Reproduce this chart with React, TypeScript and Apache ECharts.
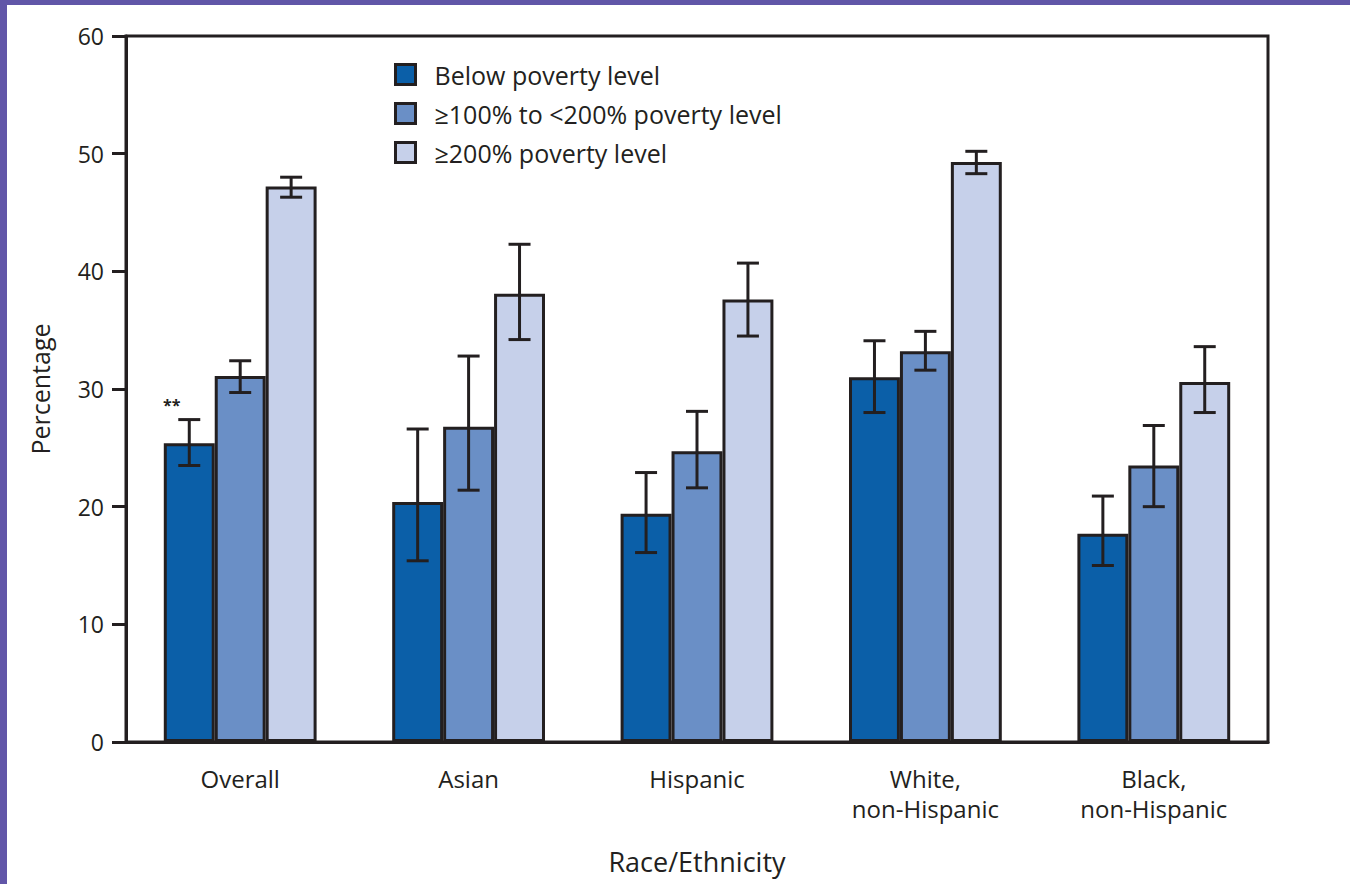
import React, { useEffect, useRef } from "react";
import * as echarts from "echarts";

const categories = ["Overall", "Asian", "Hispanic", "White,\nnon-Hispanic", "Black,\nnon-Hispanic"];
const seriesNames = ["Below poverty level", "≥100% to <200% poverty level", "≥200% poverty level"];
const below = [25.4, 20.4, 19.4, 31.0, 17.7];
const belowLow = [23.5, 15.4, 16.1, 28.0, 15.0];
const belowHigh = [27.4, 26.6, 22.9, 34.1, 20.9];
const mid = [31.1, 26.8, 24.7, 33.2, 23.5];
const midLow = [29.7, 21.4, 21.6, 31.6, 20.0];
const midHigh = [32.4, 32.8, 28.1, 34.9, 26.9];
const high = [47.2, 38.1, 37.6, 49.3, 30.6];
const highLow = [46.3, 34.2, 34.5, 48.3, 28.0];
const highHigh = [48.0, 42.3, 40.7, 50.2, 33.6];
const yTicks = [0, 10, 20, 30, 40, 50, 60];

const colors = ["#0b5fa8", "#6a8fc6", "#c6d0ea"];
const ink = "#231f20";
const FONT = "'Open Sans', 'Noto Sans', sans-serif";
const BAR_RATIO = 0.223;

export default function App() {
  const ref = useRef<HTMLDivElement>(null);
  useEffect(() => {
    if (!ref.current) return;
    const chart = echarts.init(ref.current, null, { renderer: "svg" });
    const values = [below, mid, high];
    const lows = [belowLow, midLow, highLow];
    const highs = [belowHigh, midHigh, highHigh];
    const errData: number[][] = [];
    values.forEach((_, s) => {
      categories.forEach((_, c) => {
        errData.push([c, s, lows[s][c], highs[s][c]]);
      });
    });
    const option: any = {
      animation: false,
      grid: { left: 119, right: 82, top: 31, bottom: 142, show: true, borderColor: ink, borderWidth: 3 },
      legend: {
        orient: "vertical",
        left: 382,
        top: 52,
        itemWidth: 20,
        itemHeight: 20,
        itemGap: 14,
        icon: "rect",
        data: seriesNames,
        textStyle: { fontFamily: FONT, fontSize: 25, color: ink, padding: [0, 0, 0, 14] },
        itemStyle: { borderColor: ink, borderWidth: 3 },
      },
      xAxis: {
        type: "category",
        data: categories,
        name: "Race/Ethnicity",
        nameLocation: "middle",
        nameGap: 106,
        nameTextStyle: { fontFamily: FONT, fontSize: 27, color: ink },
        axisLine: { lineStyle: { color: ink, width: 3 } },
        axisTick: { alignWithLabel: true, length: 14, lineStyle: { color: ink, width: 3 } },
        axisLabel: { fontFamily: FONT, fontSize: 24, color: ink, margin: 21, lineHeight: 30 },
      },
      yAxis: {
        type: "value",
        min: 0,
        max: 60,
        interval: 10,
        name: "Percentage",
        nameLocation: "middle",
        nameGap: 74,
        nameTextStyle: { fontFamily: FONT, fontSize: 25, color: ink },
        axisLine: { show: true, lineStyle: { color: ink, width: 3 } },
        axisTick: { show: true, length: 14, lineStyle: { color: ink, width: 3 } },
        axisLabel: {
          fontFamily: FONT,
          fontSize: 23,
          color: ink,
          margin: 22,
          formatter: (v: number) => (yTicks.includes(v) ? String(v) : ""),
        },
        splitLine: { show: false },
      },
      series: [
        ...values.map((vals, s) => ({
          name: seriesNames[s],
          type: "bar",
          data: vals,
          barWidth: BAR_RATIO * 100 + "%",
          barGap: "0%",
          itemStyle: { color: colors[s], borderColor: ink, borderWidth: 3 },
        })),
        {
          type: "custom",
          name: "errors",
          z: 10,
          data: errData,
          encode: { x: 0, y: [2, 3] },
          renderItem: (params: any, api: any) => {
            const c = api.value(0);
            const s = api.value(1);
            const band = api.size([1, 0])[0];
            const bw = band * BAR_RATIO;
            const top = api.coord([c, api.value(3)]);
            const bot = api.coord([c, api.value(2)]);
            const x = top[0] + (s - 1) * bw;
            const half = 11;
            const style = { stroke: ink, lineWidth: 3 };
            return {
              type: "group",
              children: [
                { type: "line", shape: { x1: x, y1: top[1], x2: x, y2: bot[1] }, style },
                { type: "line", shape: { x1: x - half, y1: top[1], x2: x + half, y2: top[1] }, style },
                { type: "line", shape: { x1: x - half, y1: bot[1], x2: x + half, y2: bot[1] }, style },
              ],
            };
          },
        },
      ],
      graphic: [
        {
          type: "text",
          left: 156,
          top: 392,
          style: { text: "**", fontFamily: FONT, fontSize: 16, fontWeight: "bold", fill: ink },
        },
      ],
    };
    chart.setOption(option);
    return () => chart.dispose();
  }, []);
  return (
    <div style={{ position: "fixed", left: 0, top: 0, width: 1350, height: 884, background: "#6156a8" }}>
      <div
        ref={ref}
        style={{ position: "absolute", left: 7, top: 5, width: 1343, height: 879, background: "#ffffff" }}
      />
    </div>
  );
}
